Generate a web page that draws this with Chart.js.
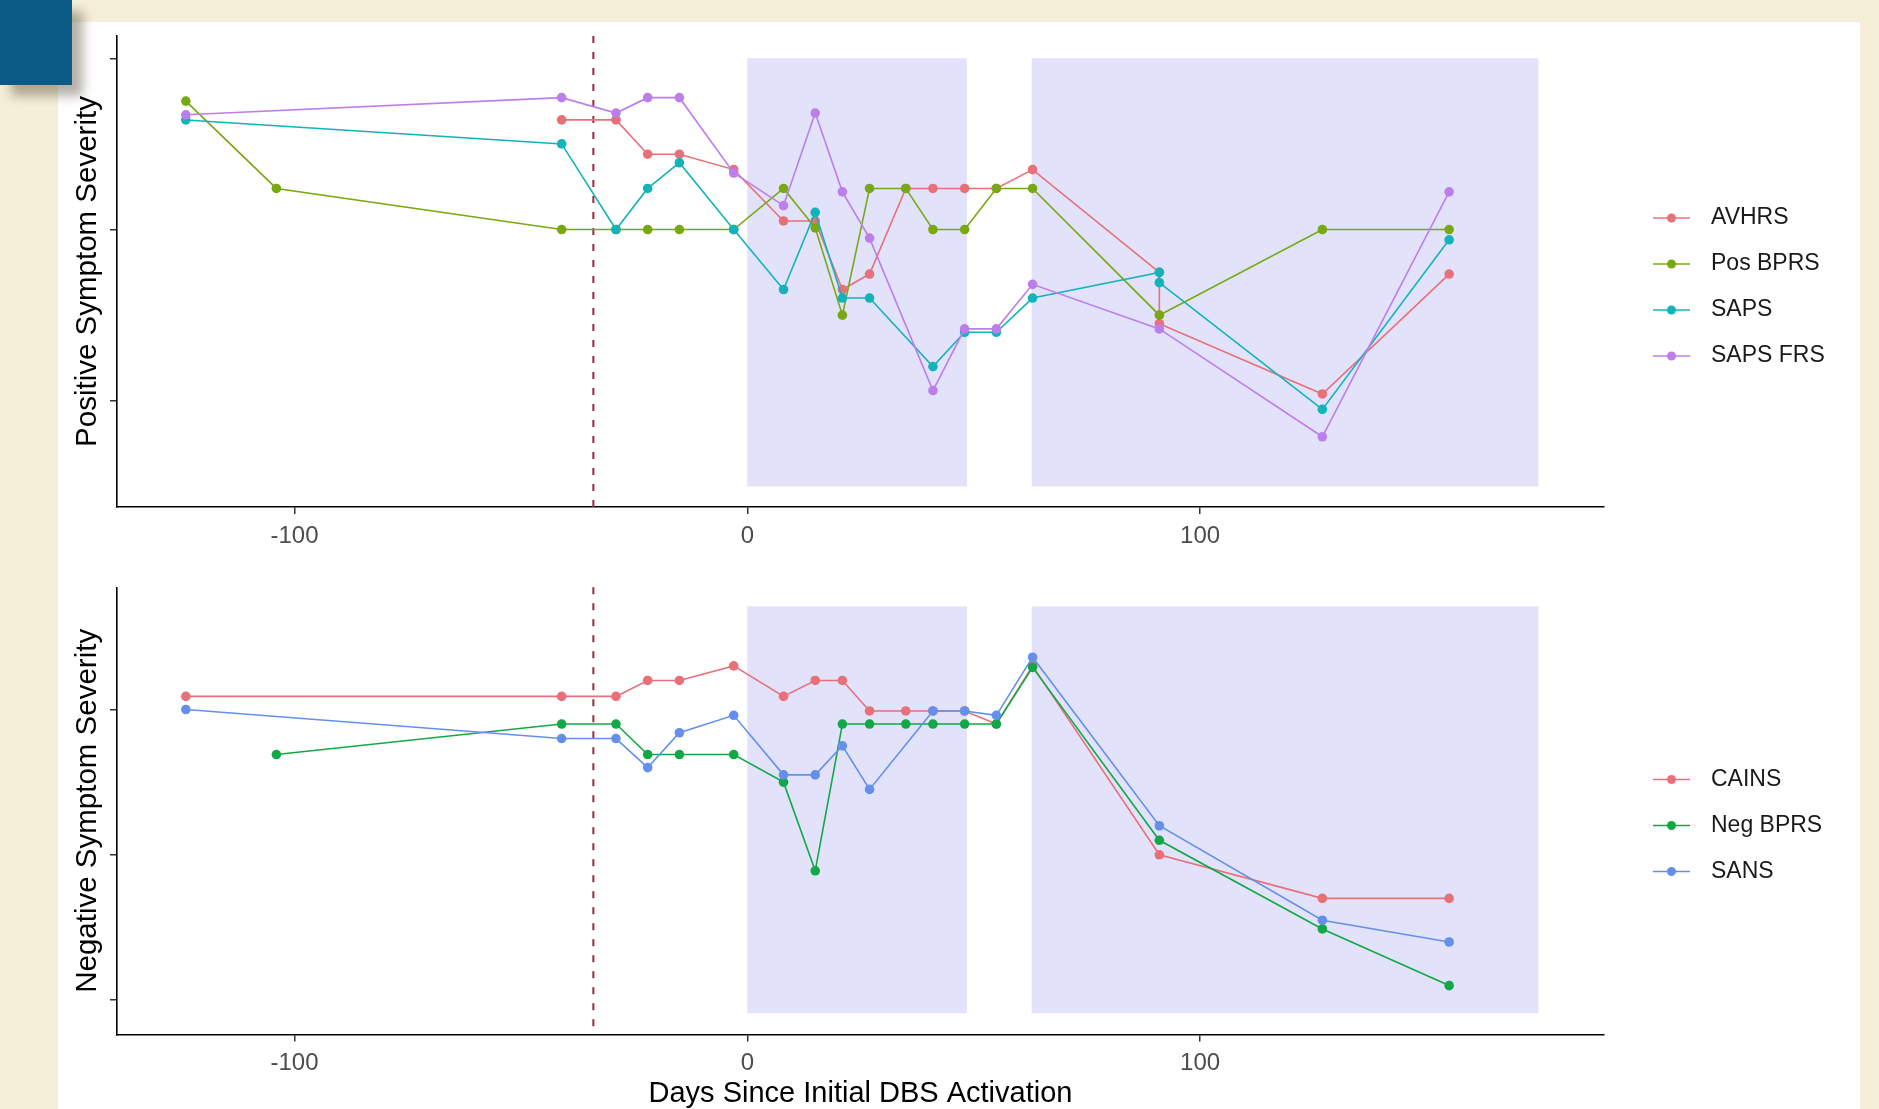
<!DOCTYPE html>
<html>
<head>
<meta charset="utf-8">
<script src="https://cdn.jsdelivr.net/npm/chart.js@4.4.1/dist/chart.umd.min.js"></script>
<style>
  html, body { margin: 0; padding: 0; }
  body { width: 1879px; height: 1109px; background: #f5efd9; position: relative; overflow: hidden; }
  .panel { position: absolute; left: 58px; top: 22px; width: 1802px; height: 1087px; background: #fff; }
  .badge { position: absolute; left: 0; top: 0; width: 72px; height: 85px; background: #0b5a86;
           box-shadow: 11px 11px 10px rgba(70, 60, 40, 0.4); }
  canvas { position: absolute; left: 0; top: 0; }
</style>
</head>
<body>
<div class="panel"></div>
<canvas id="pos" width="1879" height="1109" style="width:1879px;height:1109px"></canvas>
<canvas id="neg" width="1879" height="1109" style="width:1879px;height:1109px"></canvas>
<div class="badge"></div>
<script>
const FONT = "'Liberation Sans', Arial, sans-serif";

// days since initial DBS activation (two ratings fall on day 91 in the positive panel)
const posDays = [-124, -104, -41, -29, -22, -15, -3, 8, 15, 21, 27, 35, 41, 48, 55, 63, 91, 91, 127, 155];
const avhrs   = [null, null, 0.64, 0.64, 0.44, 0.44, 0.35, 0.05, 0.05, -0.35, -0.26, 0.24, 0.24, 0.24, 0.24, 0.35, -0.25, -0.55, -0.96, -0.26];
const posBprs = [0.75, 0.24, 0, 0, 0, 0, 0, 0.24, 0.01, -0.50, 0.24, 0.24, 0, 0, 0.24, 0.24, null, -0.50, 0, 0];
const saps    = [0.64, null, 0.50, 0, 0.24, 0.39, 0, -0.35, 0.10, -0.40, -0.40, null, -0.80, -0.60, -0.60, -0.40, -0.25, -0.31, -1.05, -0.06];
const sapsFrs = [0.67, null, 0.77, 0.68, 0.77, 0.77, 0.33, 0.14, 0.68, 0.22, -0.05, null, -0.94, -0.58, -0.58, -0.32, null, -0.58, -1.21, 0.22];

const negDays = [-124, -104, -41, -29, -22, -15, -3, 8, 15, 21, 27, 35, 41, 48, 55, 63, 91, 127, 155];
const cains   = [1.09, null, 1.09, 1.09, 1.20, 1.20, 1.30, 1.09, 1.20, 1.20, 0.99, 0.99, 0.99, 0.99, 0.90, 1.30, 0.00, -0.30, -0.30];
const negBprs = [null, 0.69, 0.90, 0.90, 0.69, 0.69, 0.69, 0.50, -0.11, 0.90, 0.90, 0.90, 0.90, 0.90, 0.90, 1.29, 0.10, -0.51, -0.90];
const sans    = [1.00, null, 0.80, 0.80, 0.60, 0.84, 0.96, 0.55, 0.55, 0.75, 0.45, null, 0.99, 0.99, 0.96, 1.36, 0.20, -0.45, -0.60];

const xTicks = [-100, 0, 100];
const yTicks = [-1, 0, 1];
const activationDay = -34;
const bandStart = [0, 62.8];
const bandEnd = [48.5, 174.7];

// shaded stimulation phases + dashed marker + legend on the right
const phasePlugin = {
  id: 'phases',
  beforeDatasetsDraw(chart, args, opts) {
    const { ctx, chartArea, scales: { x, y } } = chart;
    ctx.save();
    ctx.fillStyle = '#e2e2fa';
    bandStart.forEach((s, i) => {
      const x0 = x.getPixelForValue(s), x1 = x.getPixelForValue(bandEnd[i]);
      const y0 = y.getPixelForValue(opts.bandTop), y1 = y.getPixelForValue(opts.bandBottom);
      ctx.fillRect(x0, y0, x1 - x0, y1 - y0);
    });
    const lx = x.getPixelForValue(activationDay);
    ctx.strokeStyle = '#a0283a';
    ctx.lineWidth = 2;
    ctx.setLineDash([7, 9]);
    ctx.beginPath();
    ctx.moveTo(lx, chartArea.top);
    ctx.lineTo(lx, chartArea.bottom);
    ctx.stroke();
    ctx.restore();
  },
  afterDraw(chart, args, opts) {
    const ctx = chart.ctx;
    ctx.save();
    chart.data.datasets.forEach((ds, i) => {
      const cy = opts.top + i * opts.gap;
      ctx.strokeStyle = ds.borderColor;
      ctx.lineWidth = 1.6;
      ctx.beginPath();
      ctx.moveTo(opts.x, cy);
      ctx.lineTo(opts.x + 37, cy);
      ctx.stroke();
      ctx.fillStyle = ds.backgroundColor;
      ctx.beginPath();
      ctx.arc(opts.x + 18.5, cy, 4.5, 0, Math.PI * 2);
      ctx.fill();
      ctx.fillStyle = '#1a1a1a';
      ctx.font = '23px ' + FONT;
      ctx.textBaseline = 'middle';
      ctx.fillText(ds.label, opts.x + 58, cy);
    });
    ctx.restore();
  }
};

function makeChart(id, days, series, o) {
  return new Chart(document.getElementById(id), {
    type: 'line',
    data: {
      datasets: series.map((s, i) => ({
        label: s.label,
        data: days.map((d, j) => ({ x: d, y: s.values[j] })).filter(p => p.y !== null),
        borderColor: s.color,
        backgroundColor: s.color,
        borderWidth: 1.6,
        pointRadius: 4.8,
        pointBorderWidth: 0,
        pointHoverRadius: 4.8,
        tension: 0,
        order: -i
      }))
    },
    options: {
      responsive: false,
      animation: false,
      events: [],
      layout: { padding: { top: o.top, right: 1879 - 1604, bottom: 0, left: 0 } },
      plugins: {
        legend: { display: false },
        tooltip: { enabled: false },
        phases: { bandTop: o.bandTop, bandBottom: o.bandBottom, x: 1653, top: o.legendTop, gap: 46 }
      },
      scales: {
        x: {
          type: 'linear',
          min: -139.2,
          max: 189.2,
          afterBuildTicks: s => { s.ticks = xTicks.map(v => ({ value: v })); },
          afterFit: s => { s.height = 1109 - o.bottom; },
          grid: { drawOnChartArea: false, drawTicks: true, tickLength: 7, color: '#333', lineWidth: 1.5 },
          border: { display: true, color: '#000', width: 1.6 },
          ticks: { color: '#4d4d4d', font: { family: FONT, size: 24 }, padding: 7.5, maxRotation: 0 },
          title: { display: !!o.xTitle, text: o.xTitle || '', color: '#000', font: { family: FONT, size: 29 }, padding: { top: 0, bottom: -2.5 } }
        },
        y: {
          min: o.yMin,
          max: o.yMax,
          afterBuildTicks: s => { s.ticks = yTicks.map(v => ({ value: v })); },
          afterFit: s => { s.width = 117; },
          grid: { drawOnChartArea: false, drawTicks: true, tickLength: 7, color: '#333', lineWidth: 1.5 },
          border: { display: true, color: '#000', width: 1.6 },
          ticks: { callback: () => '', padding: 0 },
          title: { display: true, text: o.yTitle, color: '#000', font: { family: FONT, size: 29.5 }, padding: { top: 70, bottom: 0 } }
        }
      }
    },
    plugins: [phasePlugin]
  });
}

makeChart('pos', posDays, [
  { label: 'AVHRS', values: avhrs, color: '#e87078' },
  { label: 'Pos BPRS', values: posBprs, color: '#78a812' },
  { label: 'SAPS', values: saps, color: '#12b4ba' },
  { label: 'SAPS FRS', values: sapsFrs, color: '#bd7eec' }
], { top: 36, bottom: 507, yMin: -1.62, yMax: 1.13, bandTop: 1, bandBottom: -1.5,
     legendTop: 218, yTitle: 'Positive Symptom Severity' });

makeChart('neg', negDays, [
  { label: 'CAINS', values: cains, color: '#e87078' },
  { label: 'Neg BPRS', values: negBprs, color: '#12a848' },
  { label: 'SANS', values: sans, color: '#6490ec' }
], { top: 587.3, bottom: 1034.4, yMin: -1.236, yMax: 1.841, bandTop: 1.71, bandBottom: -1.09,
     legendTop: 779.5, yTitle: 'Negative Symptom Severity', xTitle: 'Days Since Initial DBS Activation' });
</script>
</body>
</html>
